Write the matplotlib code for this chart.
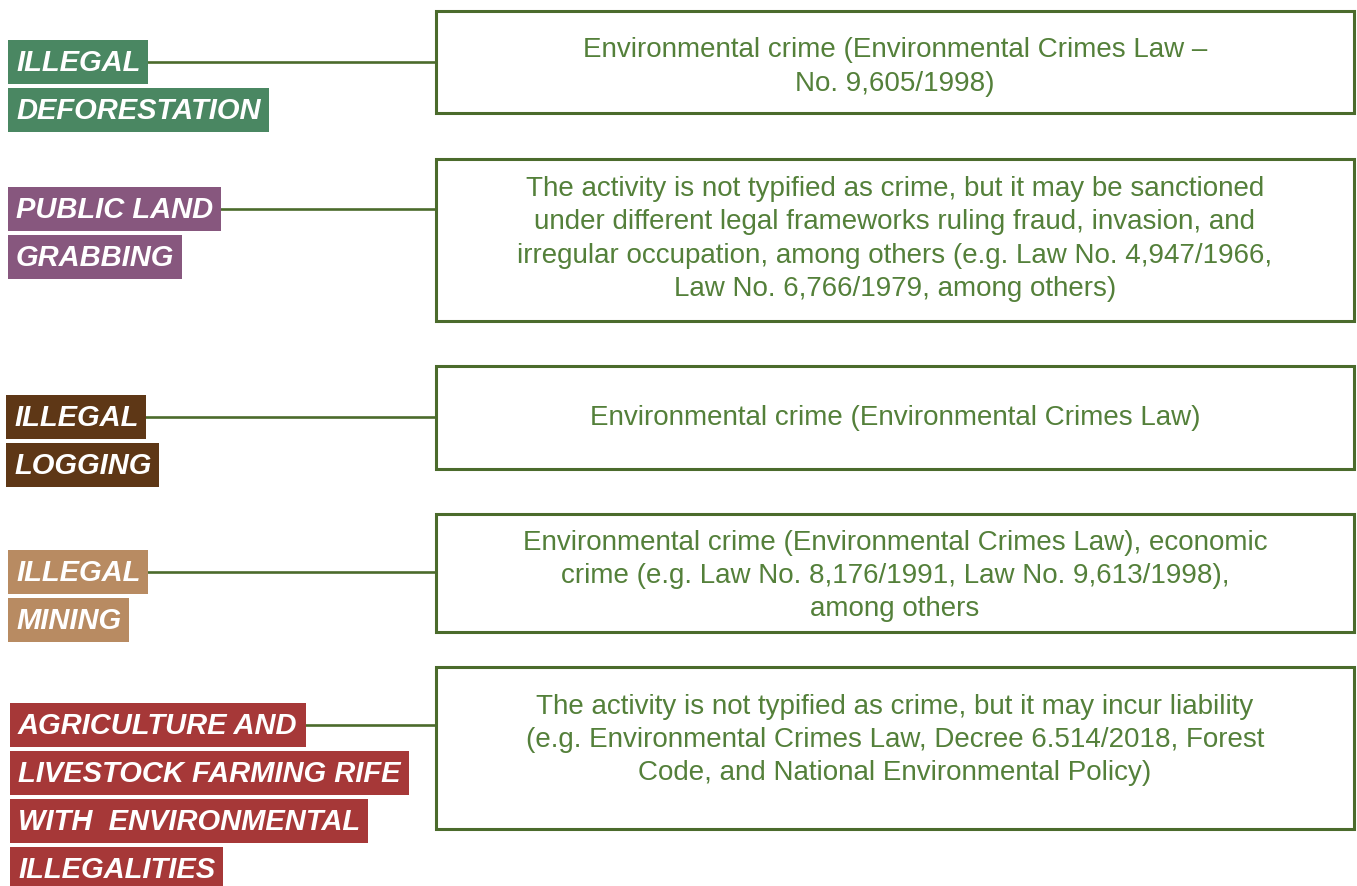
import matplotlib.pyplot as plt
from matplotlib.patches import Rectangle

# activity labels (one entry per line of the coloured tag)
labels = [
    ["ILLEGAL", "DEFORESTATION"],
    ["PUBLIC LAND", "GRABBING"],
    ["ILLEGAL", "LOGGING"],
    ["ILLEGAL", "MINING"],
    ["AGRICULTURE AND", "LIVESTOCK FARMING RIFE", "WITH  ENVIRONMENTAL", "ILLEGALITIES"],
]
label_colors = ["#4a8762", "#87577e", "#5e3716", "#b88b62", "#a63838"]

descriptions = [
    "Environmental crime (Environmental Crimes Law \u2013\nNo. 9,605/1998)",
    "The activity is not typified as crime, but it may be sanctioned\n"
    "under different legal frameworks ruling fraud, invasion, and\n"
    "irregular occupation, among others (e.g. Law No. 4,947/1966,\n"
    "Law No. 6,766/1979, among others)",
    "Environmental crime (Environmental Crimes Law)",
    "Environmental crime (Environmental Crimes Law), economic\n"
    "crime (e.g. Law No. 8,176/1991, Law No. 9,613/1998),\n"
    "among others",
    "The activity is not typified as crime, but it may incur liability\n"
    "(e.g. Environmental Crimes Law, Decree 6.514/2018, Forest\n"
    "Code, and National Environmental Policy)",
]

# layout (pixels, y down)
label_top = [40, 187, 395, 550, 703]
label_x = [8, 8, 6, 8, 10]
box_top = [11, 159, 366, 514, 667]
box_bot = [113, 321, 469, 632, 829]
text_y = [67, 239, 418, 576, 740]
box_x0, box_x1 = 436, 1354
row_h, row_pitch = 44, 48

line_green = "#4b6b2c"
text_green = "#54803a"

fig = plt.figure(figsize=(13.57, 8.86), dpi=100)
ax = fig.add_axes([0, 0, 1, 1])
ax.set_xlim(0, 1357)
ax.set_ylim(886, 0)
ax.axis("off")
renderer = fig.canvas.get_renderer()

for i, rows in enumerate(labels):
    first_right = None
    x0 = label_x[i]
    for j, s in enumerate(rows):
        top = label_top[i] + j * row_pitch
        t = ax.text(x0 + 8, top + row_h / 2 + 1, s, color="white", fontsize=21,
                    family="Liberation Sans", weight="bold", style="italic",
                    ha="left", va="center", zorder=3)
        w = t.get_window_extent(renderer).width
        ax.add_patch(Rectangle((x0, top), w + 16, row_h, facecolor=label_colors[i],
                               edgecolor="none", zorder=2))
        if j == 0:
            first_right = x0 + w + 16
    # connector
    yc = label_top[i] + row_h / 2
    ax.plot([first_right, box_x0], [yc, yc], color=line_green, lw=1.9, zorder=1)

    # description box
    ax.add_patch(Rectangle((box_x0, box_top[i]), box_x1 - box_x0, box_bot[i] - box_top[i],
                           facecolor="white", edgecolor=line_green, lw=2.2, zorder=2))
    ax.text((box_x0 + box_x1) / 2, text_y[i], descriptions[i], color=text_green,
            fontsize=20, family="Liberation Sans",
            ha="center", va="center", linespacing=1.37, zorder=3)

fig.savefig("out.png", dpi=100)
